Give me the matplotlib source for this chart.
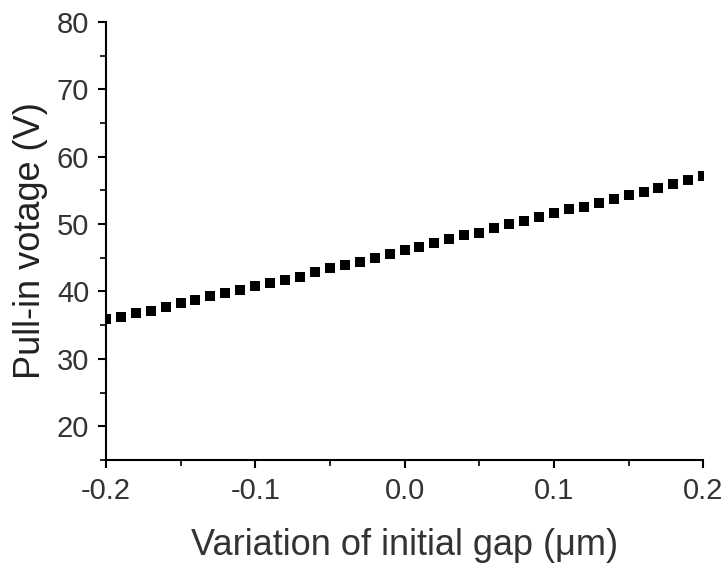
import matplotlib
matplotlib.use('Agg')
import matplotlib.pyplot as plt
from matplotlib.ticker import MultipleLocator
import numpy as np

plt.rcParams['font.family'] = ['Liberation Sans', 'DejaVu Sans']

# Variation of initial gap (um), step 0.01
gap = np.round(np.arange(-0.20, 0.2001, 0.01), 2)
# Pull-in voltage (V)
voltage = [35.9, 36.2, 36.8, 37.1, 37.7, 38.3, 38.7, 39.3, 39.8, 40.2,
           40.8, 41.3, 41.7, 42.2, 42.9, 43.5, 43.9, 44.4, 45.0, 45.6,
           46.2, 46.6, 47.2, 47.8, 48.4, 48.7, 49.4, 50.0, 50.5, 51.1,
           51.6, 52.2, 52.5, 53.1, 53.7, 54.3, 54.8, 55.4, 55.9, 56.5,
           57.1]

fig = plt.figure(figsize=(7.25, 5.65), dpi=100)
ax = fig.add_axes([0.146, 0.186, 0.824, 0.775])

ax.plot(gap, voltage, 's', color='black', markersize=6.8, markeredgewidth=0)

ax.set_xlim(-0.2, 0.2)
ax.set_ylim(15, 80)
ax.set_xticks([-0.2, -0.1, 0.0, 0.1, 0.2])
ax.set_xticklabels(['-0.2', '-0.1', '0.0', '0.1', '0.2'])
ax.set_yticks([20, 30, 40, 50, 60, 70, 80])
ax.xaxis.set_minor_locator(MultipleLocator(0.05))
ax.yaxis.set_minor_locator(MultipleLocator(5))

for s in ['top', 'right']:
    ax.spines[s].set_visible(False)
for s in ['left', 'bottom']:
    ax.spines[s].set_linewidth(1.5)

ax.tick_params(which='major', direction='out', length=6, width=1.5,
               labelsize=21, labelcolor='#333333', pad=6)
ax.tick_params(which='minor', direction='out', length=4, width=1.2)

ax.set_xlabel('Variation of initial gap (\u03bcm)', fontsize=26, color='#333333', labelpad=17)
ax.set_ylabel('Pull-in votage (V)', fontsize=26, color='#222222', labelpad=6)

fig.savefig('out.png', dpi=100)
